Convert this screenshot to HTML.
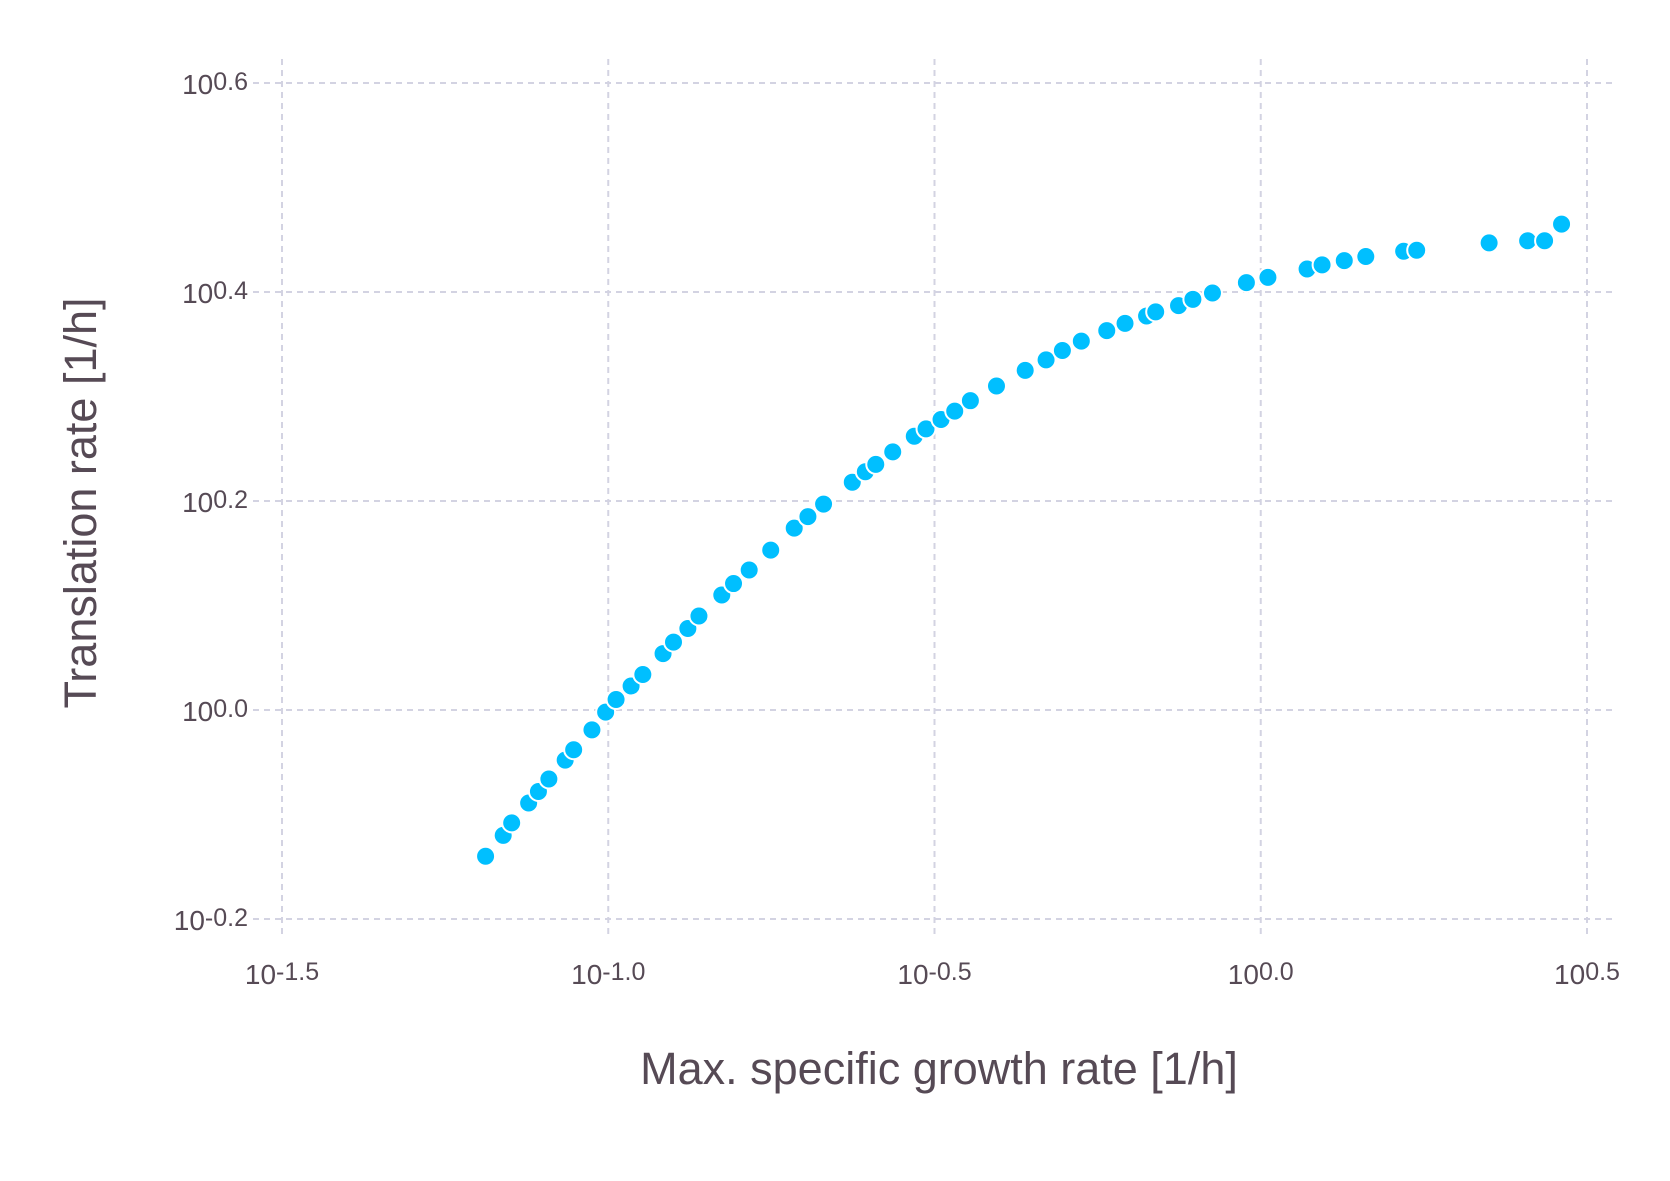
<!DOCTYPE html>
<html><head><meta charset="utf-8"><style>
html,body{margin:0;padding:0;background:#fff;}
svg{display:block;font-family:"Liberation Sans",Arial,sans-serif;}
</style></head><body>
<svg id="chart" width="1670" height="1181" viewBox="0 0 1670 1181">
<g id="grid"></g>
<g id="xticks"></g>
<g id="yticks"></g>
<g id="points"></g>
<text x="939" y="1084" text-anchor="middle" font-size="45" fill="#564a55">Max. specific growth rate [1/h]</text>
<text transform="translate(96,503) rotate(-90)" text-anchor="middle" font-size="45" fill="#564a55">Translation rate [1/h]</text>
</svg>
<script>
const xTicks=[-1.5,-1.0,-0.5,0.0,0.5];
const xTickLabels=["-1.5","-1.0","-0.5","0.0","0.5"];
const yTicks=[-0.2,0.0,0.2,0.4,0.6];
const yTickLabels=["-0.2","0.0","0.2","0.4","0.6"];
const logMu=[-1.188,-1.161,-1.148,-1.122,-1.107,-1.091,-1.066,-1.053,-1.025,-1.004,-0.988,-0.965,-0.947,-0.916,-0.900,-0.878,-0.861,-0.826,-0.808,-0.784,-0.751,-0.715,-0.694,-0.670,-0.626,-0.606,-0.590,-0.564,-0.531,-0.513,-0.490,-0.469,-0.445,-0.405,-0.361,-0.329,-0.304,-0.275,-0.236,-0.208,-0.175,-0.161,-0.126,-0.104,-0.074,-0.022,0.011,0.071,0.094,0.128,0.161,0.219,0.239,0.350,0.409,0.435,0.461];
const logTr=[-0.140,-0.120,-0.108,-0.089,-0.078,-0.066,-0.048,-0.038,-0.019,-0.002,0.010,0.023,0.034,0.054,0.065,0.078,0.090,0.110,0.121,0.134,0.153,0.174,0.185,0.197,0.218,0.228,0.235,0.247,0.262,0.269,0.278,0.286,0.296,0.310,0.325,0.335,0.344,0.353,0.363,0.370,0.377,0.381,0.387,0.393,0.399,0.409,0.414,0.422,0.426,0.430,0.434,0.439,0.440,0.447,0.449,0.449,0.465];

const NS="http://www.w3.org/2000/svg";
function xs(v){return 282+(v+1.5)*652.5;}
function ys(v){return 83+(0.6-v)*1045;}
function mk(tag,attrs,parent){const e=document.createElementNS(NS,tag);for(const k in attrs)e.setAttribute(k,attrs[k]);parent.appendChild(e);return e;}
const grid=document.getElementById('grid'),xt=document.getElementById('xticks'),yt=document.getElementById('yticks'),pts=document.getElementById('points');
const gs={stroke:"#d3d3e2","stroke-width":2,"stroke-dasharray":"6 5",fill:"none"};
xTicks.forEach((v,i)=>{
  const l=mk('line',Object.assign({x1:xs(v),x2:xs(v),y1:59,y2:937},gs),grid);
  
  
  const t=mk('text',{x:xs(v),y:984,"text-anchor":"middle","font-size":28,fill:"#564a55"},xt);
  
  
  t.textContent="10";
  const s=mk('tspan',{"font-size":25,dy:-4},t);s.textContent=xTickLabels[i];
});
yTicks.forEach((v,i)=>{
  const l=mk('line',Object.assign({x1:253,x2:1617,y1:ys(v),y2:ys(v)},gs),grid);
  
  
  const t=mk('text',{x:248,y:ys(v)+11,"text-anchor":"end","font-size":28,fill:"#564a55"},yt);
  
  
  t.textContent="10";
  const s=mk('tspan',{"font-size":25,dy:-4},t);s.textContent=yTickLabels[i];
});
logMu.forEach((v,i)=>{
  const c=mk('circle',{cx:xs(v),cy:ys(logTr[i]),r:9.5,fill:"#00bfff",stroke:"#fff","stroke-width":2},pts);
  
  
});
</script>
</body></html>
